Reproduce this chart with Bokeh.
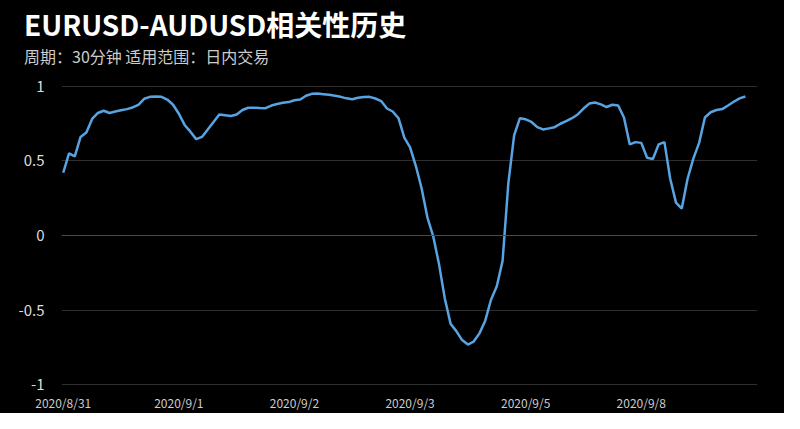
from bokeh.plotting import figure
from bokeh.models import Range1d, FixedTicker, Span, Div
from bokeh.layouts import column
from bokeh.embed import file_html
from bokeh.resources import INLINE

title_text = "EURUSD-AUDUSD相关性历史"
subtitle_text = "周期：30分钟 适用范围：日内交易"

x_labels = ["2020/8/31", "2020/9/1", "2020/9/2", "2020/9/3", "2020/9/5", "2020/9/8"]
x_label_pos = [0, 20, 40, 60, 80, 100]

y_ticks = [-1, -0.5, 0, 0.5, 1]
y_tick_labels = ["-1", "-0.5", "0", "0.5", "1"]

corr = [
    0.42, 0.55, 0.53, 0.66, 0.69, 0.78, 0.82, 0.835, 0.82, 0.83,
    0.838, 0.846, 0.857, 0.875, 0.915, 0.928, 0.93, 0.928, 0.91, 0.875,
    0.815, 0.74, 0.695, 0.645, 0.66, 0.71, 0.76, 0.81, 0.805, 0.80,
    0.81, 0.84, 0.855, 0.855, 0.853, 0.852, 0.87, 0.88, 0.888, 0.893,
    0.905, 0.91, 0.935, 0.948, 0.95, 0.946, 0.942, 0.935, 0.928, 0.918,
    0.912, 0.922, 0.927, 0.928, 0.917, 0.90, 0.85, 0.83, 0.785, 0.655,
    0.59, 0.465, 0.315, 0.12, -0.005, -0.19, -0.42, -0.59, -0.64, -0.70,
    -0.73, -0.71, -0.655, -0.57, -0.43, -0.34, -0.17, 0.35, 0.67, 0.785,
    0.778, 0.76, 0.725, 0.71, 0.717, 0.725, 0.748, 0.765, 0.785, 0.81,
    0.85, 0.883, 0.89, 0.878, 0.86, 0.875, 0.87, 0.79, 0.61, 0.625,
    0.62, 0.52, 0.512, 0.61, 0.625, 0.38, 0.22, 0.18, 0.38, 0.515,
    0.62, 0.79, 0.825, 0.84, 0.846, 0.87, 0.895, 0.918, 0.93,
]
idx = list(range(len(corr)))

FONT = "Noto Sans CJK SC"
W = 784
HEAD_H = 68

head_html = (
    f'<div style="position:relative;width:{W}px;height:{HEAD_H}px;background:#000;overflow:hidden;">'
    f'<div style="position:absolute;left:24px;top:10px;white-space:nowrap;line-height:1;'
    f"font-family:'{FONT}';font-size:28px;font-weight:bold;color:#ffffff;\">{title_text}</div>"
    f'<div style="position:absolute;left:24px;top:48px;white-space:nowrap;line-height:1;'
    f"font-family:'{FONT}';font-size:16px;font-weight:normal;color:#cccccc;\">{subtitle_text}</div>"
    '</div>'
)
head = Div(text=head_html, width=W, height=HEAD_H, margin=0,
           styles={"background-color": "#000000"})

p = figure(width=W, height=413 - HEAD_H, output_backend="svg", toolbar_location=None,
           x_range=Range1d(-0.3, 120.1), y_range=Range1d(-1.004, 1.004),
           min_border_left=61, min_border_right=27, min_border_bottom=25, min_border_top=17)
p.background_fill_color = "#000000"
p.border_fill_color = "#000000"
p.outline_line_color = None

p.line(idx, corr, line_color="#58a3e2", line_width=2.5)

p.xgrid.grid_line_color = None
p.ygrid.grid_line_color = "#2e2e2e"
p.ygrid.grid_line_width = 1
p.add_layout(Span(location=0, dimension="width", line_color="#4a4a4a", line_width=1))

p.xaxis.ticker = FixedTicker(ticks=x_label_pos)
p.xaxis.major_label_overrides = {k: v for k, v in zip(x_label_pos, x_labels)}
p.yaxis.ticker = FixedTicker(ticks=y_ticks)
p.yaxis.major_label_overrides = {k: v for k, v in zip(y_ticks, y_tick_labels)}

for ax in (p.xaxis, p.yaxis):
    ax.axis_line_color = None
    ax.major_tick_line_color = None
    ax.minor_tick_line_color = None
    ax.major_tick_out = 0
    ax.major_tick_in = 0
    ax.minor_tick_out = 0
    ax.major_label_text_font = FONT
p.xaxis.major_label_text_font_size = "12px"
p.xaxis.major_label_text_color = "#cccccc"
p.xaxis.major_label_standoff = 8
p.yaxis.major_label_text_font_size = "15px"
p.yaxis.major_label_text_color = "#dddddd"
p.yaxis.major_label_standoff = 17

layout = column(head, p, spacing=0, margin=0, styles={"background-color": "#000000"})

open("out.html", "w").write(file_html(layout, INLINE))
